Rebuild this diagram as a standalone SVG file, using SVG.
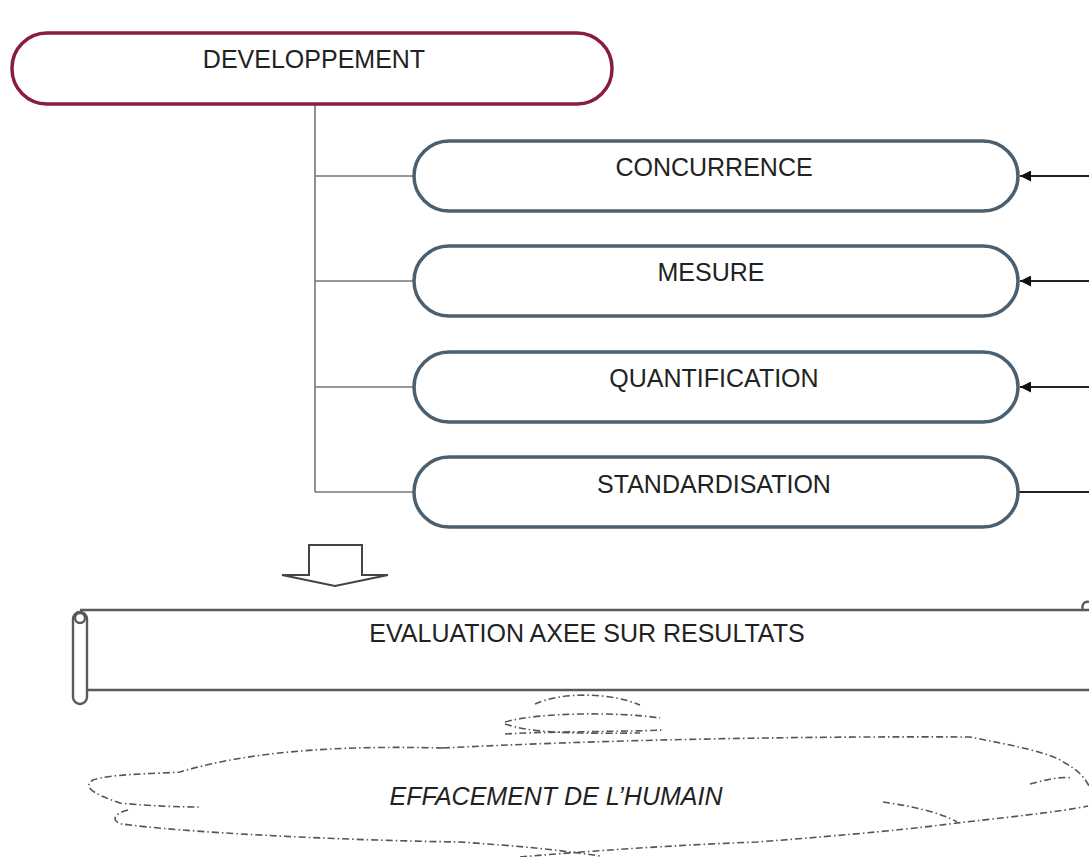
<svg xmlns="http://www.w3.org/2000/svg" width="1089" height="857" viewBox="0 0 1089 857">
<defs>
<style>
.t{font-family:"Liberation Sans",Arial,sans-serif;font-size:25px;fill:#222;text-anchor:middle}
.dev{fill:#fff;stroke:#8a1c3c;stroke-width:3.5}
.box{fill:#fff;stroke:#4a6070;stroke-width:3.5}
.conn{stroke:#777;stroke-width:1.6;fill:none}
.arr{stroke:#222;stroke-width:2;fill:none}
.scroll{fill:#fff;stroke:#5a5a5a;stroke-width:2.4}
.cloud{fill:none;stroke:#555;stroke-width:1.6;stroke-dasharray:7 3 1.5 3}
</style>
<marker id="ah" viewBox="0 0 10 10" refX="10" refY="5" markerWidth="13" markerHeight="11" markerUnits="userSpaceOnUse" orient="auto">
<path d="M0 0 L10 5 L0 10 Z" fill="#111"/>
</marker>
</defs>
<rect width="1089" height="857" fill="#fff"/>

<g id="connectors">
<path class="conn" d="M315 104 V492 M315 176 H414 M315 281 H414 M315 387 H414 M315 492 H414"/>
<path class="arr" d="M1089 176 H1020" marker-end="url(#ah)"/>
<path class="arr" d="M1089 281 H1020" marker-end="url(#ah)"/>
<path class="arr" d="M1089 387 H1020" marker-end="url(#ah)"/>
<path class="arr" d="M1089 492 H1018"/>
</g>

<g id="developpement">
<rect class="dev" x="12" y="33" width="600" height="71" rx="35"/>
<text class="t" x="314" y="68">DEVELOPPEMENT</text>
</g>
<g id="concurrence">
<rect class="box" x="414" y="141" width="604" height="70" rx="35"/>
<text class="t" x="714" y="176">CONCURRENCE</text>
</g>
<g id="mesure">
<rect class="box" x="414" y="246" width="604" height="70" rx="35"/>
<text class="t" x="711" y="281">MESURE</text>
</g>
<g id="quantification">
<rect class="box" x="414" y="352" width="604" height="70" rx="35"/>
<text class="t" x="714" y="387">QUANTIFICATION</text>
</g>
<g id="standardisation">
<rect class="box" x="414" y="457" width="604" height="70" rx="35"/>
<text class="t" x="714" y="493">STANDARDISATION</text>
</g>

<g id="block-arrow">
<path d="M309 545 H362 V575 H388 L335 586 L282 575 H309 Z" fill="#fff" stroke="#444" stroke-width="2" stroke-linejoin="miter"/>
</g>

<g id="evaluation">
<path class="scroll" d="M80 610 H1095 M80 690 H1095"/>
<rect class="scroll" x="73" y="612" width="14" height="92" rx="7"/>
<circle class="scroll" cx="80" cy="618" r="5"/>
<path class="scroll" d="M1089 602 A5 5 0 0 0 1083 609"/>
<text class="t" x="587" y="642">EVALUATION AXEE SUR RESULTATS</text>
</g>

<g id="effacement">
<path class="cloud" d="M443 748 C360 746 260 748 180 772 C150 774 110 774 93 780 C84 786 88 792 120 803 C150 806 180 807 200 807"/>
<path class="cloud" d="M128 810 C112 814 112 822 122 824 C180 832 330 840 460 842 C520 846 560 850 600 856"/>
<path class="cloud" d="M520 857 C600 850 680 845 757 842 C850 835 920 828 957 823 C1000 818 1060 812 1088 806"/>
<path class="cloud" d="M883 802 C910 806 940 812 957 822"/>
<path class="cloud" d="M443 748 C600 740 800 736 970 737 C1010 745 1050 752 1065 763 C1078 770 1085 778 1089 786"/>
<path class="cloud" d="M1030 784 C1045 780 1060 776 1072 778"/>
<path class="cloud" d="M505 734 C560 731 620 732 662 730"/>
<path class="cloud" d="M505 722 C540 712 620 712 660 718"/>
<path class="cloud" d="M535 704 C560 692 610 692 640 705"/>
<path class="cloud" d="M505 724 C530 732 560 734 640 733"/>
<text class="t" x="556" y="805" font-style="italic">EFFACEMENT DE L’HUMAIN</text>
</g>
</svg>
